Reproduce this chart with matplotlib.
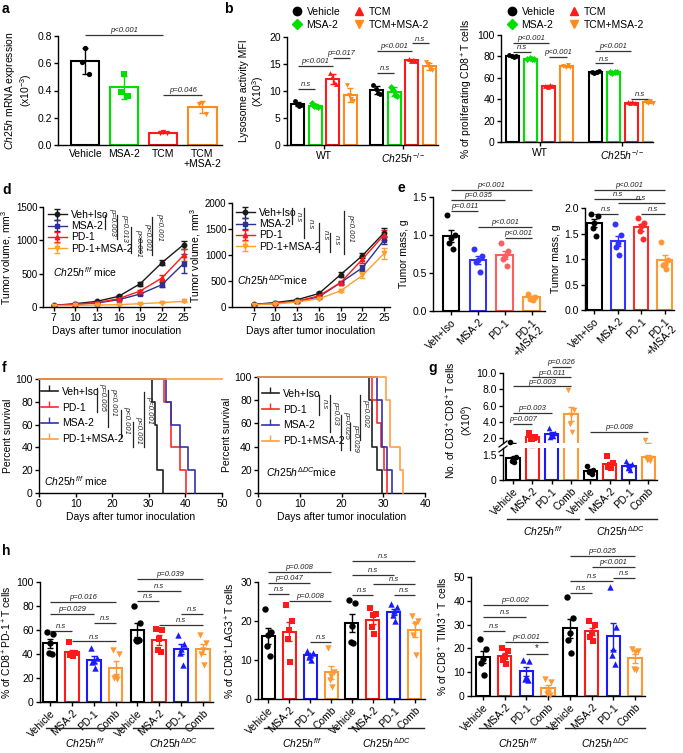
import numpy as np
import matplotlib
matplotlib.use("Agg")
import matplotlib.pyplot as plt
from matplotlib.lines import Line2D
from matplotlib.transforms import blended_transform_factory as blend

plt.rcParams['font.family'] = ['Liberation Sans', 'DejaVu Sans']
plt.rcParams['mathtext.fontset'] = 'custom'
plt.rcParams['mathtext.rm'] = 'Liberation Sans'
plt.rcParams['mathtext.it'] = 'Liberation Sans:italic'
plt.rcParams['mathtext.bf'] = 'Liberation Sans:bold'
plt.rcParams['axes.linewidth'] = 1.0

# ---------------- data ----------------
a_groups = ["Vehicle", "MSA-2", "TCM", "TCM\n+MSA-2"]
a_vehicle = [0.71, 0.61, 0.52]
a_msa2 = [0.52, 0.39, 0.36]
a_tcm = [0.095, 0.09, 0.085]
a_tcm_msa2 = [0.31, 0.30, 0.23]
a_sig = [(0, 2, 0.81, "p<0.001"), (2, 3, 0.37, "p=0.046")]

bc_legend = ["Vehicle", "MSA-2", "TCM", "TCM+MSA-2"]
bc_groups = ["WT", r"$\mathit{Ch25h}^{-/-}$"]
b_wt = [[8.1, 7.6, 7.3, 7.4], [7.7, 7.3, 7.2, 7.0], [13.3, 12.6, 11.6, 11.3], [11.2, 9.2, 8.6, 8.1]]
b_ko = [[11.2, 10.4, 9.7, 9.4], [10.8, 10.2, 9.3, 9.0], [16.0, 15.6, 15.7, 15.5], [15.3, 15.0, 14.1, 13.8]]
b_sig = [(0, 1, 10.4, "n.s"), (0, 2, 14.6, "p<0.001"), (2, 3, 16.1, "p=0.017"),
         (4, 5, 13.4, "n.s"), (4, 6, 17.5, "p<0.001"), (6, 7, 18.8, "n.s")]
c_wt = [[81, 80, 79.5, 80.5], [78, 78.5, 77.5, 78], [52.5, 51, 53, 52], [71, 70.5, 71.5, 70]]
c_ko = [[65.5, 64.5, 65, 66], [65, 64.5, 65.5, 65], [37, 36.5, 37.5, 36], [37.5, 36, 38, 36.5]]
c_sig = [(0, 1, 84.4, "n.s"), (0, 2, 92.8, "p<0.001"), (2, 3, 79.2, "p<0.001"),
         (4, 5, 73.5, "n.s"), (4, 6, 85.3, "p<0.001"), (6, 7, 40, "n.s")]

d_days = [7, 10, 13, 16, 19, 22, 25]
d_labels = ["Veh+Iso", "MSA-2", "PD-1", "PD-1+MSA-2"]
dL_veh = [25, 50, 85, 160, 350, 665, 935]
dL_veh_err = [5, 8, 10, 15, 30, 40, 60]
dL_msa = [22, 40, 60, 110, 195, 335, 650]
dL_msa_err = [4, 6, 8, 12, 20, 40, 140]
dL_pd1 = [22, 40, 65, 125, 240, 435, 775]
dL_pd1_err = [4, 5, 8, 12, 20, 50, 90]
dL_comb = [20, 25, 30, 35, 50, 65, 85]
dL_comb_err = [3, 3, 4, 5, 5, 8, 10]
dR_veh = [50, 85, 140, 260, 625, 990, 1430]
dR_veh_err = [8, 10, 15, 20, 50, 50, 90]
dR_msa = [45, 70, 110, 195, 470, 755, 1290]
dR_msa_err = [6, 8, 10, 15, 20, 60, 80]
dR_pd1 = [45, 70, 110, 215, 470, 920, 1390]
dR_pd1_err = [6, 8, 12, 15, 30, 70, 100]
dR_comb = [45, 60, 95, 160, 310, 610, 1030]
dR_comb_err = [5, 8, 10, 12, 20, 60, 100]
dL_sig_text = ["p=0.003", "p=0.013", "p<0.001", "p<0.001", "p<0.001"]
dR_sig_text = ["n.s", "n.s", "n.s", "n.s", "p<0.001"]

e_labels = ["Veh+Iso", "MSA-2", "PD-1", "PD-1\n+MSA-2"]
eL_vals = [[1.26, 1.0, 0.96, 0.89, 0.81], [0.82, 0.72, 0.675, 0.645, 0.51],
           [0.90, 0.79, 0.72, 0.69, 0.59], [0.23, 0.19, 0.175, 0.16, 0.15]]
eR_vals = [[1.89, 1.85, 1.71, 1.61, 1.46], [1.68, 1.48, 1.31, 1.23, 1.07],
           [1.80, 1.71, 1.64, 1.55, 1.40], [1.33, 0.98, 0.91, 0.89, 0.80]]
eL_sig = [(0, 3, 1.59, "p<0.001"), (0, 2, 1.46, "p=0.035"), (0, 1, 1.32, "p=0.011"),
          (1, 3, 1.11, "p<0.001"), (2, 3, 0.96, "p<0.001")]
eR_sig = [(0, 3, 2.36, "p<0.001"), (0, 2, 2.18, "n.s"), (1, 3, 2.10, "n.s"),
          (0, 1, 1.89, "n.s"), (2, 3, 1.89, "n.s")]

f_labels = ["Veh+Iso", "PD-1", "MSA-2", "PD-1+MSA-2"]
fL_veh = [31, 31.6, 32.2, 32.2, 34]
fL_pd1 = [34.2, 36, 36, 38.4, 40.3]
fL_msa = [34.8, 36.1, 38.4, 40.7, 42.5]
fL_comb = []          # no deaths during follow-up
fR_veh = [26.6, 27.4, 27.4, 28.6, 29.8]
fR_pd1 = [27.4, 28.6, 29.5, 30.2, 31]
fR_msa = [28.6, 29.8, 29.8, 30.8, 32]
fR_comb = [30.6, 31.6, 31.6, 33.9, 34.7]
fL_sig_text = ["p=0.005", "p<0.001", "p<0.001", "p<0.001", "p<0.001"]
fR_sig_text = ["n.s", "p=0.03", "p=0.025", "p=0.029", "p=0.002"]

gh_labels = ["Vehicle", "MSA-2", "PD-1", "Comb"] * 2
gh_groups = [r"$\mathit{Ch25h}^{f/f}$", r"$\mathit{Ch25h}^{\Delta DC}$"]
g_vals = [[1.6, 1.35, 1.3, 1.15, 1.05], [2.6, 2.1, 1.95, 1.9, 2.0], [3.3, 2.6, 2.4, 2.2, 2.3],
          [7.9, 5.5, 4.8, 3.8, 2.8], [0.85, 0.6, 0.5, 0.45, 0.35], [1.44, 1.0, 0.9, 0.8, 0.7],
          [1.14, 0.95, 0.8, 0.7, 0.6], [1.8, 1.3, 1.25, 1.2, 1.15]]
g_sig = [(2, 3, 10.7, "p=0.026"), (1, 3, 9.46, "p=0.011"), (0, 3, 8.35, "p=0.003"),
         (0, 2, 5.07, "p=0.003"), (0, 1, 3.76, "p=0.007"), (4, 7, 2.74, "p=0.008")]

h1_vals = [[58, 56.7, 49, 41, 40], [50, 41, 39.5, 39, 38], [45, 37, 34, 33, 28], [43, 40, 21, 20, 19.4],
           [80, 66, 51, 51.5, 52], [61, 60, 52.5, 43.6, 42], [56, 48, 44, 41, 30.5], [56, 49, 43.6, 40, 31]]
h1_sig = [(0, 3, 83.3, "p=0.016"), (0, 2, 73.3, "p=0.029"), (0, 1, 59.4, "n.s"), (2, 3, 65.8, "n.s"),
          (1, 3, 50.5, "n.s"), (4, 7, 102.8, "p=0.039"), (4, 6, 92.8, "n.s"), (4, 5, 83.9, "n.s"),
          (6, 7, 73.6, "n.s"), (5, 7, 63.9, "n.s")]
h2_vals = [[23, 17.3, 16.5, 13.5, 10.9], [24, 20, 17.7, 15.4, 9.4], [12.3, 11.8, 11.3, 10.8, 10],
           [13, 7, 6, 5, 3], [25.5, 24.6, 18.6, 14.7, 14.3], [23.3, 21.8, 21.5, 18.5, 16.6],
           [24.3, 23.5, 22.5, 21.5, 20], [21.4, 20, 19.2, 16.5, 11.3]]
h2_sig = [(0, 3, 32.6, "p=0.008"), (0, 2, 29.7, "p=0.047"), (0, 1, 26.9, "n.s"), (1, 3, 25.2, "p=0.008"),
          (2, 3, 14.7, "n.s"), (4, 7, 35.5, "n.s"), (4, 6, 31.9, "n.s"), (5, 7, 29.5, "n.s"),
          (4, 5, 26.7, "n.s"), (6, 7, 26.7, "n.s")]
h3_vals = [[24.1, 19.6, 15.7, 13.9, 8.7], [20.2, 18.8, 16.4, 15, 13.6], [15, 14.7, 8, 7.3, 6.6],
           [7.3, 5.9, 1.7, 1, 0.6], [41.6, 32.8, 26.6, 23.4, 18.2], [31.5, 30, 26.5, 25, 23],
           [45.8, 29, 19.9, 17.1, 13.6], [19.6, 19, 18.5, 11.5, 10.8]]
h3_sig = [(0, 3, 38.4, "p=0.002"), (0, 2, 33.2, "n.s"), (0, 1, 27.2, "n.s"), (1, 3, 22.7, "p<0.001"),
          (2, 3, 17.8, "*"), (4, 7, 58.8, "p=0.025"), (5, 7, 54.2, "p<0.001"), (4, 6, 48.2, "n.s"),
          (4, 5, 43.4, "n.s"), (6, 7, 49.6, "n.s")]

# ---------------- helpers ----------------
W, H = 683, 753
fig = plt.figure(figsize=(W / 100, H / 100), dpi=100)
FS = 7.5
SIGFS = 5.5
JIT = {3: [0.0, -0.12, 0.12], 4: [-0.24, -0.08, 0.08, 0.24], 5: [-0.22, 0.22, 0.0, -0.11, 0.11]}


def px_axes(x0, y0, x1, y1):
    return fig.add_axes([x0 / W, 1 - y1 / H, (x1 - x0) / W, (y1 - y0) / H])


def style(ax):
    for s in ['top', 'right']:
        ax.spines[s].set_visible(False)
    ax.tick_params(labelsize=FS, length=3, width=1, pad=1.5)


def bars(ax, xs, vals, colors, markers, err='sd', width=0.7, ms=4.0, lw=1.4, split=None):
    for x, pts, c, m in zip(xs, vals, colors, markers):
        pts = np.asarray(pts, float)
        mean = pts.mean()
        e = pts.std(ddof=1)
        if err == 'sem':
            e = e / np.sqrt(len(pts))
        ax.bar(x, mean, width, facecolor='white', edgecolor=c, linewidth=lw, zorder=2)
        ax.errorbar(x, mean, yerr=e, color=c, capsize=2.5, elinewidth=1.0, capthick=1.0,
                    fmt='none', zorder=3)
        off = np.array(JIT[len(pts)]) * width
        if split is None:
            ax.scatter(x + off, pts, s=ms ** 2, color=c, marker=m, zorder=4, linewidths=0,
                       clip_on=False)
        else:
            sel = split(pts)
            if sel.any():
                ax.scatter((x + off)[sel], pts[sel], s=ms ** 2, color=c, marker=m, zorder=4,
                           linewidths=0, clip_on=False)


def sig(ax, x1, x2, y, txt, fs=SIGFS):
    ax.plot([x1, x2], [y, y], color='#333333', lw=0.9, clip_on=False, solid_capstyle='butt')
    style_ = 'normal' if txt == '*' else 'italic'
    ax.annotate(txt, ((x1 + x2) / 2, y), xytext=(0, 0.6), textcoords='offset points',
                ha='center', va='bottom', fontsize=fs if txt != '*' else 7, style=style_,
                annotation_clip=False, color='#222222')


def fig_vline(x, y0, y1, txt, tx, ty, fs=SIGFS):
    fig.add_artist(Line2D([x / W, x / W], [1 - y0 / H, 1 - y1 / H], color='#222222', lw=0.9,
                          transform=fig.transFigure))
    fig.text(tx / W, 1 - ty / H, txt, rotation=270, ha='left', va='center', fontsize=fs,
             style='italic', color='#222222')


def letter(x, y, s):
    fig.text(x / W, 1 - y / H, s, fontsize=10, fontweight='bold', ha='left', va='top')


def group_lines(ax, spans, names, y_line, y_text):
    tr = blend(ax.transData, fig.transFigure)
    for (x0, x1), nm in zip(spans, names):
        ax.plot([x0, x1], [1 - y_line / H] * 2, color='#222222', lw=1.0, transform=tr,
                clip_on=False)
        ax.text((x0 + x1) / 2, 1 - y_text / H, nm, transform=tr, ha='center', va='center',
                fontsize=FS)


# ---------------- panel a ----------------
axA = px_axes(58, 36, 222, 145)
style(axA)
a_colors = ['black', '#00e000', '#ff1a1a', '#ff8c1a']
bars(axA, np.arange(4), [a_vehicle, a_msa2, a_tcm, a_tcm_msa2], a_colors, ['o', 's', 'v', 'v'],
     err='sd', width=0.72, ms=3.8, lw=1.5)
axA.set_xlim(-0.7, 3.5)
axA.set_ylim(0, 0.8)
axA.set_yticks([0, 0.2, 0.4, 0.6, 0.8])
axA.set_yticklabels(['0.0', '0.2', '0.4', '0.6', '0.8'])
axA.set_xticks(np.arange(4))
axA.set_xticklabels(a_groups, fontsize=FS, linespacing=1.0)
axA.tick_params(axis='x', length=0, pad=3)
axA.set_ylabel(r'$\mathit{Ch25h}$ mRNA expression' + '\n' + r'(x10$^{-3}$)', fontsize=FS,
               linespacing=1.1, labelpad=2)
for s in a_sig:
    sig(axA, *s)
letter(2, 2, 'a')

# ---------------- panel b ----------------
bc_colors = ['black', '#00e000', '#ff1a1a', '#ff8c1a']
bc_markers = ['o', 'D', '^', 'v']
axB = px_axes(287, 37, 438, 145)
style(axB)
b_pos = [0, 1, 2, 3, 4.5, 5.5, 6.5, 7.5]
bars(axB, b_pos, b_wt + b_ko, bc_colors * 2, bc_markers * 2, err='sd', width=0.75, ms=3.5, lw=1.5)
axB.set_xlim(-0.61, 8.0)
axB.set_ylim(0, 20)
axB.set_yticks([0, 5, 10, 15, 20])
axB.set_xticks([1.5, 6])
axB.set_xticklabels(bc_groups, fontsize=FS)
axB.set_ylabel('Lysosome activity MFI\n' + r'(X10$^3$)', fontsize=FS, linespacing=1.1, labelpad=2)
for (i, j, y, t) in b_sig:
    sig(axB, b_pos[i], b_pos[j], y, t)
letter(224, 2, 'b')


def bc_legend_at(ax, x, y):
    hs = [Line2D([], [], ls='none', marker=m, color=c, ms=6 if m != 'D' else 4.6)
          for m, c in zip(bc_markers, bc_colors)]
    ax.legend(hs, bc_legend, ncol=2, loc='upper left', bbox_to_anchor=(x / W, 1 - y / H),
              bbox_transform=fig.transFigure, frameon=False, fontsize=FS, handlelength=1.0,
              handletextpad=0.4, columnspacing=1.3, labelspacing=0.3, borderpad=0,
              borderaxespad=0)


bc_legend_at(axB, 292, 7)

# ---------------- panel c ----------------
axC = px_axes(501, 35, 653, 142)
style(axC)
c_pos = [0, 1, 2, 3, 4.6, 5.6, 6.6, 7.6]
bars(axC, c_pos, c_wt + c_ko, bc_colors * 2, bc_markers * 2, err='sd', width=0.75, ms=3.5, lw=1.5)
axC.set_xlim(-0.65, 7.8)
axC.set_ylim(0, 100)
axC.set_yticks([0, 20, 40, 60, 80, 100])
axC.set_xticks([1.5, 6.1])
axC.set_xticklabels(bc_groups, fontsize=FS)
axC.set_ylabel(r'% of proliferating CD8$^+$T cells', fontsize=FS, labelpad=2)
for (i, j, y, t) in c_sig:
    sig(axC, c_pos[i], c_pos[j], y, t)
bc_legend_at(axC, 507, 7)

# ---------------- panel d ----------------
d_colors = ['#1a1a1a', '#2e3192', '#ff1a1a', '#ffa030']
d_markers = ['o', 's', '^', 'v']


def d_panel(ax, series, errs, xlim, ylim, yticks, legend_anchor, label_x):
    style(ax)
    ax.tick_params(axis='y', labelsize=7, pad=1)
    hs = []
    for m, e, c, mk in zip(series, errs, d_colors, d_markers):
        h = ax.errorbar(d_days, m, yerr=e, color=c, marker=mk, ms=3.2, lw=1.0, capsize=2,
                        elinewidth=1.0, capthick=1.0)
        hs.append(h)
    ax.set_xlim(*xlim)
    ax.set_ylim(*ylim)
    ax.set_yticks(yticks)
    ax.set_xticks(d_days)
    ax.set_xlabel('Days after tumor inoculation', fontsize=FS, labelpad=2)
    ax.set_ylabel(r'Tumor volume, mm$^3$', fontsize=FS)
    ax.yaxis.set_label_coords(label_x, 0.5)
    ax.legend(hs, d_labels, loc='upper left', bbox_to_anchor=legend_anchor,
              bbox_transform=fig.transFigure, frameon=False, fontsize=FS, handlelength=1.8,
              handletextpad=0.4, labelspacing=0.12, borderpad=0, borderaxespad=0)


axD1 = px_axes(43, 207, 190, 307)
d_panel(axD1, [dL_veh, dL_msa, dL_pd1, dL_comb], [dL_veh_err, dL_msa_err, dL_pd1_err, dL_comb_err],
        (5.5, 25.9), (0, 1500), [0, 500, 1000, 1500], (48 / W, 1 - 210 / H), -0.2)
axD1.text(0.07, 0.35, r'$\mathit{Ch25h}^{f/f}$ mice', transform=axD1.transAxes, fontsize=FS,
          va='center')
dL_lines = [(105, 215, 229, 109, 222), (117, 215, 239, 121, 228), (131, 227, 253, 135, 243),
            (140, 238, 253, 144, 237), (152, 217, 255, 156, 227)]
for (x, y0, y1, tx, ty), t in zip(dL_lines, dL_sig_text):
    fig_vline(x, y0, y1, t, tx, ty)

axD2 = px_axes(232, 203, 390, 307)
d_panel(axD2, [dR_veh, dR_msa, dR_pd1, dR_comb], [dR_veh_err, dR_msa_err, dR_pd1_err, dR_comb_err],
        (4, 25.8), (0, 2000), [0, 500, 1000, 1500, 2000], (236 / W, 1 - 208 / H), -0.185)
axD2.text(0.03, 0.26, r'$\mathit{Ch25h}^{\Delta DC}$mice', transform=axD2.transAxes, fontsize=FS,
          va='center')
dR_lines = [(292, 208, 224, 295, 217), (304, 208, 238, 307, 224), (319, 223, 252, 322, 235),
            (330, 233, 252, 333, 240), (344, 211, 254, 347, 228)]
for (x, y0, y1, tx, ty), t in zip(dR_lines, dR_sig_text):
    fig_vline(x, y0, y1, t, tx, ty)
letter(2, 183, 'd')

# ---------------- panel e ----------------
eL_colors = ['black', '#3333ff', '#ff5c5c', '#ff9933']
eR_colors = ['black', '#3333ff', '#ff2a2a', '#ff9933']


def e_panel(ax, vals, colors, ylim, yticks, sigs, xlim):
    style(ax)
    bars(ax, np.arange(4), vals, colors, ['o'] * 4, err='sem', width=0.62, ms=4.3, lw=1.5)
    ax.set_xlim(*xlim)
    ax.set_ylim(*ylim)
    ax.set_yticks(yticks)
    ax.set_yticklabels(['%.1f' % v for v in yticks])
    ax.set_xticks(np.arange(4))
    ax.set_xticklabels(e_labels, rotation=45, ha='right', rotation_mode='anchor', fontsize=FS,
                       linespacing=1.0)
    ax.set_ylabel('Tumor mass, g', fontsize=FS, labelpad=2)
    for s in sigs:
        sig(ax, *s)


axE1 = px_axes(433, 197, 545, 311)
e_panel(axE1, eL_vals, eL_colors, (0, 1.5), [0, 0.5, 1.0, 1.5], eL_sig, (-0.67, 3.5))
axE2 = px_axes(585, 208, 674, 310)
e_panel(axE2, eR_vals, eR_colors, (0, 2.0), [0, 0.5, 1.0, 1.5, 2.0], eR_sig, (-0.4, 3.4))
letter(398, 181, 'e')

# ---------------- panel f ----------------
f_colors = ['#222222', '#ff2a2a', '#3333aa', '#ffa040']


def km_steps(times, tmax):
    t = sorted(times)
    n = len(t)
    if n == 0:
        return [0, tmax], [100, 100]
    xs, ys, cur = [0], [100.0], 100.0
    for tt in sorted(set(t)):
        new = sum(1 for v in t if v > tt) / n * 100
        xs += [tt, tt]
        ys += [cur, new]
        cur = new
    return xs, ys


def f_panel(ax, curves, tmax, legend_anchor, label_txt, label_pos):
    style(ax)
    for times, c in zip(curves, f_colors):
        xs, ys = km_steps(times, tmax)
        ax.plot(xs, ys, color=c, lw=1.2, clip_on=False, zorder=3)
    ax.set_xlim(0, tmax)
    ax.set_ylim(0, 100)
    ax.set_yticks([0, 20, 40, 60, 80, 100])
    ax.set_xticks(np.arange(0, tmax + 1, 10))
    ax.set_xlabel('Days after tumor inoculation', fontsize=FS, labelpad=2)
    ax.set_ylabel('Percent survival', fontsize=FS, labelpad=2)
    hs = [Line2D([], [], color=c, lw=1.2, marker=2, ms=4) for c in f_colors]
    ax.legend(hs, f_labels, loc='upper left', bbox_to_anchor=legend_anchor,
              bbox_transform=fig.transFigure, frameon=False, fontsize=FS, handlelength=1.6,
              handletextpad=0.4, labelspacing=0.55, borderpad=0, borderaxespad=0, numpoints=1)
    ax.text(label_pos[0], label_pos[1], label_txt, transform=ax.transAxes, fontsize=FS, va='center')


axF1 = px_axes(39, 379, 222, 493)
f_panel(axF1, [fL_veh, fL_pd1, fL_msa, fL_comb], 50, (41 / W, 1 - 387 / H),
        r'$\mathit{Ch25h}^{f/f}$ mice', (0.03, 0.1))
fL_lines = [(97, 388, 412, 99, 397), (108, 390, 427, 110, 402), (121, 410, 438, 123, 420),
            (133, 422, 447, 135, 430), (144, 392, 447, 146, 410)]
for (x, y0, y1, tx, ty), t in zip(fL_lines, fL_sig_text):
    fig_vline(x, y0, y1, t, tx, ty)

axF2 = px_axes(258, 377, 425, 493)
f_panel(axF2, [fR_veh, fR_pd1, fR_msa, fR_comb], 40, (262 / W, 1 - 389 / H),
        r'$\mathit{Ch25h}^{\Delta DC}$mice', (0.05, 0.18))
fR_lines = [(319, 395, 415, 321, 404), (330, 395, 432, 332, 413), (341, 415, 450, 343, 425),
            (350, 423, 450, 352, 438), (360, 395, 440, 362, 413)]
for (x, y0, y1, tx, ty), t in zip(fR_lines, fR_sig_text):
    fig_vline(x, y0, y1, t, tx, ty)
letter(2, 361, 'f')

# ---------------- panel g ----------------
gh_colors = ['black', '#ff1a1a', '#1a1aff', '#ff9933'] * 2
gh_markers = ['o', 's', '^', 'v'] * 2
g_pos = np.arange(8)
gU = px_axes(503, 373, 657, 443)
gL = px_axes(503, 448, 657, 480)
for ax in (gU, gL):
    style(ax)
    ax.set_xlim(-0.52, 7.45)
bars(gU, g_pos, g_vals, gh_colors, gh_markers, err='sem', width=0.68, ms=4.0, lw=1.5,
     split=lambda p: p > 1.55)
bars(gL, g_pos, g_vals, gh_colors, gh_markers, err='sem', width=0.68, ms=4.0, lw=1.5,
     split=lambda p: p <= 1.55)
gU.set_ylim(1.42, 10)
gU.set_yticks([2, 4, 6, 8, 10])
gU.set_yticklabels(['2.0', '4.0', '6.0', '8.0', '10.0'])
gU.spines['bottom'].set_visible(False)
gU.set_xticks([])
gL.set_ylim(0, 1.9)
gL.set_yticks([0, 1.5])
gL.set_yticklabels(['0', '1.5'])
gL.set_xticks(g_pos)
gL.set_xticklabels(gh_labels, rotation=45, ha='right', rotation_mode='anchor', fontsize=FS)
for (i, j, y, t) in g_sig:
    sig(gU, g_pos[i], g_pos[j], y, t)
for (xa, ya, xb, yb) in [(499, 447, 507, 441), (499, 452, 507, 446)]:
    fig.add_artist(Line2D([xa / W, xb / W], [1 - ya / H, 1 - yb / H], color='black', lw=0.9,
                          transform=fig.transFigure))
fig.text(460 / W, 1 - 420 / H, r'No. of CD3$^+$CD8$^+$T cells' + '\n' + r'(X10$^6$)',
         rotation=90, ha='center', va='center', fontsize=FS, linespacing=1.1)
group_lines(gL, [(-0.3, 3.4), (3.7, 7.45)], gh_groups, 519, 531)
letter(428, 361, 'g')

# ---------------- panel h ----------------


def h_panel(ax, vals, ylim, yticks, sigs, xlim, ylabel):
    style(ax)
    bars(ax, g_pos, vals, gh_colors, gh_markers, err='sem', width=0.62, ms=4.6, lw=1.5)
    ax.set_xlim(*xlim)
    ax.set_ylim(*ylim)
    ax.set_yticks(yticks)
    ax.set_xticks(g_pos)
    ax.set_xticklabels(gh_labels, rotation=45, ha='right', rotation_mode='anchor', fontsize=FS)
    ax.set_ylabel(ylabel, fontsize=FS, labelpad=2)
    for (i, j, y, t) in sigs:
        sig(ax, g_pos[i], g_pos[j], y, t)
    group_lines(ax, [(-0.2, 3.4), (3.8, 7.45)], gh_groups, 728, 743)


axH1 = px_axes(40, 582, 213, 702)
h_panel(axH1, h1_vals, (0, 100), [0, 20, 40, 60, 80, 100], h1_sig, (-0.46, 7.46),
        r'% of CD8$^+$PD-1$^+$T cells')
axH2 = px_axes(258, 582, 425, 699)
h_panel(axH2, h2_vals, (0, 30), [0, 10, 20, 30], h2_sig, (-0.48, 7.48),
        r'% of CD8$^+$LAG3$^+$T cells')
axH3 = px_axes(471, 577, 645, 696)
h_panel(axH3, h3_vals, (0, 50), [0, 10, 20, 30, 40, 50], h3_sig, (-0.55, 7.46),
        r'% of CD8$^+$ TIM3$^+$ T cells')
letter(2, 544, 'h')

fig.savefig('out.png', dpi=100)
